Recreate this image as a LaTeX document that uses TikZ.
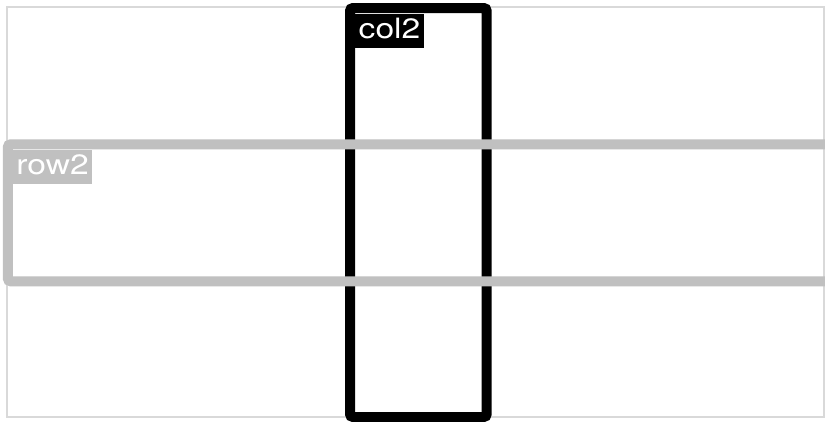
\documentclass[tikz,border=0pt]{standalone}
\usepackage{fontspec}
\usepackage{tikz}
\usetikzlibrary{positioning}
\newfontfamily\labelfont[FakeStretch=1.2]{TeX Gyre Heros}
\definecolor{gridline}{RGB}{217, 217, 217}
\definecolor{rowgray}{RGB}{192, 192, 192}
\tikzset{
  areabox/.style={line width=10pt, rounded corners=3pt},
  areatag/.style={anchor=north west, text=white, inner xsep=3.5pt, inner ysep=4.5pt,
                  text height=20pt, text depth=5pt,
                  font=\labelfont\fontsize{28}{32}\selectfont}
}

\begin{document}
\begin{tikzpicture}[x=1pt, y=-1pt]
  \clip (0,0) rectangle (825,421);
  \fill[white] (0,0) rectangle (825,421);

  % --- Grid outline ---
  \draw[gridline, line width=2pt] (7,7) rectangle (824,417);

  % --- Column 2 ---
  \begin{scope}
    \draw[areabox, black] (350,8) rectangle (486.7,417);
    \node[areatag, fill=black] (col2tag) at (355,13.3) {col2};
  \end{scope}

  % --- Row 2 ---
  \begin{scope}
    \draw[areabox, rowgray] (7.8,144.3) rectangle (840,281.3);
    \node[areatag, fill=rowgray] (row2tag) at (12.7,149.3) {row2};
  \end{scope}
\end{tikzpicture}
\end{document}
